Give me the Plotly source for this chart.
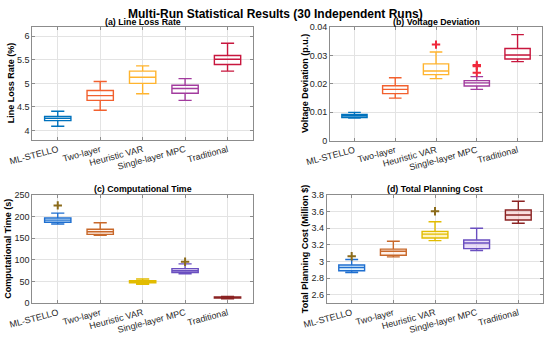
import plotly.graph_objects as go

FONT = "Liberation Sans, Arial, Helvetica, sans-serif"

methods = ["ML-STELLO", "Two-layer", "Heuristic VAR", "Single-layer MPC", "Traditional"]
positions = [1, 2, 3, 4, 5]

# (a) Line loss rate (%)
ll_low = [4.09, 4.43, 4.78, 4.64, 5.26]
ll_q1 = [4.21, 4.64, 5.00, 4.79, 5.40]
ll_med = [4.26, 4.74, 5.13, 4.89, 5.51]
ll_q3 = [4.30, 4.85, 5.26, 4.96, 5.59]
ll_high = [4.41, 5.04, 5.37, 5.10, 5.85]

# (b) Voltage deviation (p.u.)
vd_low = [0.0080, 0.0150, 0.0219, 0.0181, 0.0279]
vd_q1 = [0.0082, 0.0166, 0.0233, 0.0193, 0.0288]
vd_med = [0.0088, 0.0181, 0.0246, 0.0204, 0.0302]
vd_q3 = [0.0093, 0.0194, 0.0271, 0.0212, 0.0325]
vd_high = [0.0100, 0.0222, 0.0313, 0.0226, 0.0374]
vd_out_x = [3, 4, 4, 4]
vd_out_y = [0.0339, 0.0267, 0.0263, 0.0240]

# (c) Computational time (s)
ct_low = [183, 157, 44, 68, 10.5]
ct_q1 = [187, 159, 47, 71, 12]
ct_med = [192, 165, 49.5, 75, 13]
ct_q3 = [197, 171, 52, 80, 14.5]
ct_high = [208, 186, 56, 91, 16]
ct_out_x = [1, 4]
ct_out_y = [226, 96]

# (d) Total planning cost (Million $)
pc_low = [2.87, 3.057, 3.252, 3.133, 3.46]
pc_q1 = [2.89, 3.077, 3.283, 3.156, 3.50]
pc_med = [2.93, 3.125, 3.33, 3.224, 3.56]
pc_q3 = [2.96, 3.15, 3.363, 3.26, 3.62]
pc_high = [3.025, 3.244, 3.478, 3.40, 3.725]
pc_out_x = [1, 3]
pc_out_y = [3.065, 3.605]

colors_top = ["#0072BD", "#F2602E", "#FFB42E", "#A23B9E", "#C8173E"]
colors_bot = ["#1F6FD0", "#C8682A", "#E2BC00", "#6A4FC0", "#8B2323"]
fills_bot = ["rgba(160,220,255,0.30)", "rgba(255,200,170,0.25)", "rgba(255,230,120,0.45)",
             "rgba(200,170,240,0.40)", "rgba(240,150,150,0.30)"]

panels = [
    dict(ax="", low=ll_low, q1=ll_q1, med=ll_med, q3=ll_q3, high=ll_high,
         colors=colors_top, fills=["rgba(255,255,255,0)"] * 5, out=None),
    dict(ax="2", low=vd_low, q1=vd_q1, med=vd_med, q3=vd_q3, high=vd_high,
         colors=colors_top, fills=["rgba(255,255,255,0)"] * 5,
         out=(vd_out_x, vd_out_y, "#F0283C")),
    dict(ax="3", low=ct_low, q1=ct_q1, med=ct_med, q3=ct_q3, high=ct_high,
         colors=colors_bot, fills=fills_bot, out=(ct_out_x, ct_out_y, "#8B6B1A")),
    dict(ax="4", low=pc_low, q1=pc_q1, med=pc_med, q3=pc_q3, high=pc_high,
         colors=colors_bot, fills=fills_bot, out=(pc_out_x, pc_out_y, "#8B6B1A")),
]

fig = go.Figure()
for p in panels:
    xa = "x" + p["ax"]
    ya = "y" + p["ax"]
    for i in range(len(methods)):
        fig.add_trace(go.Box(
            x=[positions[i]], q1=[p["q1"][i]], median=[p["med"][i]], q3=[p["q3"][i]],
            lowerfence=[p["low"][i]], upperfence=[p["high"][i]],
            width=0.62, whiskerwidth=0.5, boxpoints=False,
            line=dict(color=p["colors"][i], width=1.4),
            fillcolor=p["fills"][i],
            xaxis=xa, yaxis=ya, showlegend=False, hoverinfo="skip",
        ))
    if p["out"] is not None:
        ox, oy, oc = p["out"]
        fig.add_trace(go.Scatter(
            x=ox, y=oy, mode="markers",
            marker=dict(symbol="cross-thin", size=6, line=dict(color=oc, width=2)),
            xaxis=xa, yaxis=ya, showlegend=False, hoverinfo="skip",
        ))

axis_common = dict(
    showline=True, linecolor="#8c8c8c", linewidth=1, mirror="ticks",
    ticks="inside", ticklen=3, tickcolor="#8c8c8c",
    showgrid=True, gridcolor="#e3e3e3", gridwidth=1, zeroline=False,
    automargin=False,
    tickfont=dict(family=FONT, size=9, color="#262626"),
)

xdoms = [[0.0587, 0.460], [0.600, 0.9855], [0.0587, 0.460], [0.594, 0.9878]]
ydoms = [[0.5894, 0.9217], [0.5874, 0.9200], [0.1106, 0.4282], [0.1106, 0.4282]]
yranges = [[3.8, 6.2], [0, 0.04], [0, 250], [2.5, 3.8]]
ydticks = [0.5, 0.01, 50, 0.2]
ytick0 = [4, 0, 0, 2.6]

layout = dict(
    width=550, height=341, margin=dict(l=0, r=0, t=0, b=0, autoexpand=False),
    paper_bgcolor="white", plot_bgcolor="white", showlegend=False,
    font=dict(family=FONT, size=9, color="#262626"),
)
for k in range(4):
    suf = "" if k == 0 else str(k + 1)
    layout["xaxis" + suf] = dict(
        axis_common, domain=xdoms[k], range=[0.4, 5.6], anchor="y" + suf,
        tickmode="array", tickvals=positions, ticktext=methods, tickangle=-15,
    )
    layout["yaxis" + suf] = dict(
        axis_common, domain=ydoms[k], range=yranges[k], anchor="x" + suf,
        tick0=ytick0[k], dtick=ydticks[k],
    )
fig.update_layout(**layout)

subtitles = ["(a) Line Loss Rate", "(b) Voltage Deviation",
             "(c) Computational Time", "(d) Total Planning Cost"]
ytitles = ["Line Loss Rate (%)", "Voltage Deviation (p.u.)",
           "Computational Time (s)", "Total Planning Cost (Million $)"]
sub_y = [1 - 22.5 / 341, 1 - 22.5 / 341, 1 - 189.5 / 341, 1 - 189.5 / 341]
ytitle_x = [11 / 550, 305 / 550, 8.5 / 550, 305 / 550]

ann = [dict(text="Multi-Run Statistical Results (30 Independent Runs)",
            x=0.5, y=1 - 14 / 341, xref="paper", yref="paper",
            xanchor="center", yanchor="middle", showarrow=False,
            font=dict(family=FONT, size=12, color="#000000", weight="bold"))]
for k in range(4):
    ann.append(dict(text=subtitles[k], x=sum(xdoms[k]) / 2, y=sub_y[k],
                    xref="paper", yref="paper", xanchor="center", yanchor="middle",
                    showarrow=False,
                    font=dict(family=FONT, size=8.8, color="#000000", weight="bold")))
    ann.append(dict(text=ytitles[k], x=ytitle_x[k], y=sum(ydoms[k]) / 2,
                    xref="paper", yref="paper", xanchor="center", yanchor="middle",
                    textangle=-90, showarrow=False,
                    font=dict(family=FONT, size=9, color="#000000", weight="bold")))
fig.update_layout(annotations=ann)

fig.write_html(
    "out.html",
    config={"displayModeBar": False},
    post_script="document.body.style.margin='0';document.body.style.overflow='hidden';",
)
